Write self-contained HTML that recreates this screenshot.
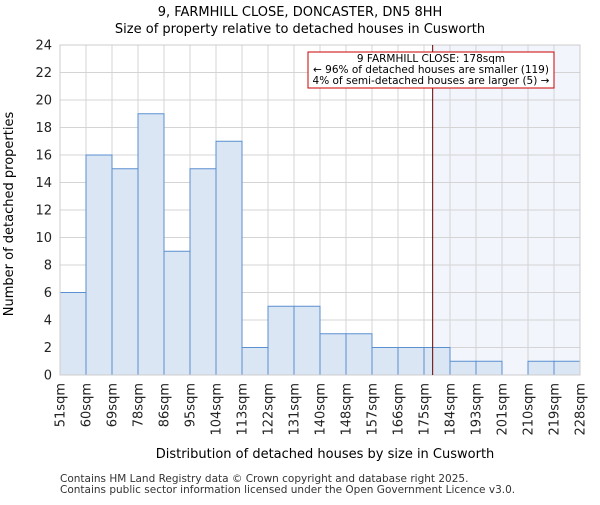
<!DOCTYPE html>
<html><head><meta charset="utf-8"><style>
body{margin:0;background:#fff}
svg{font-family:"DejaVu Sans","Liberation Sans",sans-serif}
</style></head><body>
<svg id="c" width="600" height="500"></svg>
<script>
const labels=["51sqm","60sqm","69sqm","78sqm","86sqm","95sqm","104sqm","113sqm","122sqm","131sqm","140sqm","148sqm","157sqm","166sqm","175sqm","184sqm","193sqm","201sqm","210sqm","219sqm","228sqm"];
const counts=[6,16,15,19,9,15,17,2,5,5,3,3,2,2,2,1,1,0,1,1];
const yTicks=[0,2,4,6,8,10,12,14,16,18,20,22,24];
const markerBin=14+3/9;
const svg=document.getElementById('c');
const NS='http://www.w3.org/2000/svg';
const X0=60,X1=580,Y0=375,Y1=45,YMAX=24;
const bw=(X1-X0)/counts.length;
const x=i=>X0+i*bw;
const y=v=>Y0-(Y0-Y1)*v/YMAX;
function el(t,a,txt){const e=document.createElementNS(NS,t);for(const k in a)e.setAttribute(k,a[k]);if(txt!=null)e.textContent=txt;svg.appendChild(e);return e;}
let e;
e=el('rect',{x:x(markerBin),y:Y1,width:X1-x(markerBin),height:Y0-Y1,fill:'#f2f5fc'});


yTicks.forEach(v=>{
 e=el('line',{x1:X0,x2:X1,y1:y(v),y2:y(v),stroke:'#d4d4d4','stroke-width':1});
 
 
 e=el('text',{x:X0-8,y:y(v)+4.5,'text-anchor':'end','font-size':13,fill:'#222'},v);
 
 
});
labels.forEach((l,i)=>{
 e=el('line',{x1:x(i),x2:x(i),y1:Y1,y2:Y0,stroke:'#d4d4d4','stroke-width':1});
 
 
 e=el('text',{transform:`translate(${x(i)+4.5},${Y0+8}) rotate(-90)`,'text-anchor':'end','font-size':13,fill:'#222'},l);
 
 
});
counts.forEach((v,i)=>{
 if(v<=0)return;
 e=el('rect',{x:x(i),y:y(v),width:bw,height:Y0-y(v),fill:'#dbe6f5',stroke:'#5a8fd0','stroke-width':1});
 
 
});
e=el('rect',{x:X0,y:Y1,width:X1-X0,height:Y0-Y1,fill:'none',stroke:'#ccc'});


e=el('line',{x1:x(markerBin),x2:x(markerBin),y1:Y1,y2:Y0,stroke:'#660000','stroke-width':1});


e=el('rect',{x:308,y:52,width:246,height:36,fill:'#fff',stroke:'#cc0000','stroke-width':1});


[["9 FARMHILL CLOSE: 178sqm",62],["← 96% of detached houses are smaller (119)",73],["4% of semi-detached houses are larger (5) →",84]].forEach(([t,yy])=>{
 e=el('text',{x:431,y:yy,'text-anchor':'middle','font-size':10.5,fill:'#000'},t);
 
 
});
e=el('text',{x:300,y:16,'text-anchor':'middle','font-size':13,fill:'#000'},"9, FARMHILL CLOSE, DONCASTER, DN5 8HH");


e=el('text',{x:300,y:33,'text-anchor':'middle','font-size':13,fill:'#000'},"Size of property relative to detached houses in Cusworth");


e=el('text',{x:325,y:458,'text-anchor':'middle','font-size':13,fill:'#000'},"Distribution of detached houses by size in Cusworth");


e=el('text',{transform:'translate(13,214) rotate(-90)','text-anchor':'middle','font-size':13,fill:'#000'},"Number of detached properties");


e=el('text',{x:60,y:482,'font-size':10.5,fill:'#333'},"Contains HM Land Registry data © Crown copyright and database right 2025.");


e=el('text',{x:60,y:493,'font-size':10.5,fill:'#333'},"Contains public sector information licensed under the Open Government Licence v3.0.");


</script>
</body></html>
